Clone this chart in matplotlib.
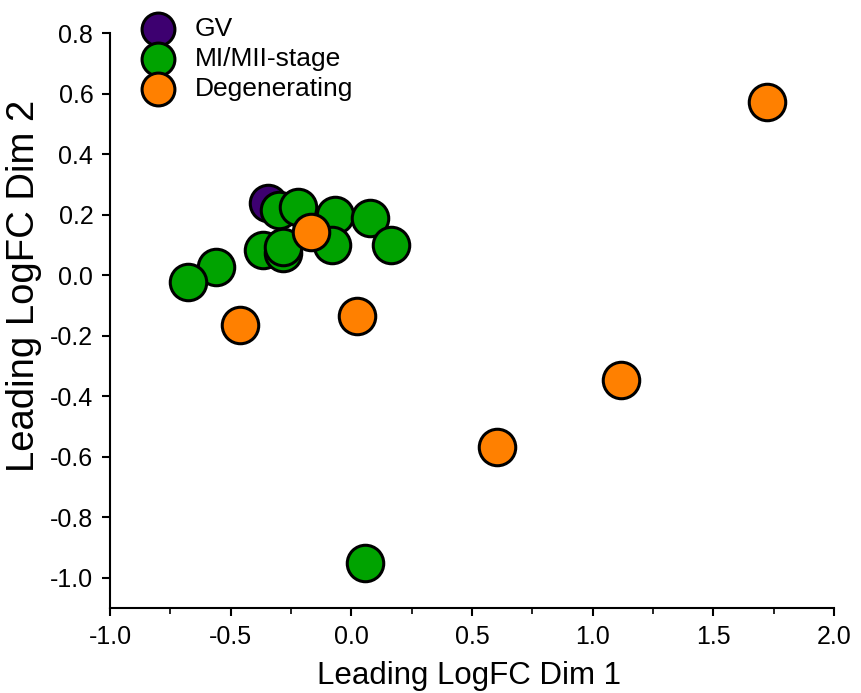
import matplotlib.pyplot as plt
from matplotlib.ticker import MultipleLocator

plt.rcParams['font.family'] = ['Liberation Sans', 'DejaVu Sans']

gv_x = [-0.345]
gv_y = [0.238]

mi_x = [-0.30, -0.22, -0.068, 0.077, 0.165, -0.08, -0.366, -0.283, -0.283, -0.561, -0.677, 0.057]
mi_y = [0.215, 0.225, 0.198, 0.19, 0.099, 0.099, 0.083, 0.073, 0.092, 0.026, -0.023, -0.95]

deg_x = [-0.167, -0.461, 0.024, 1.118, 0.604, 1.723]
deg_y = [0.142, -0.165, -0.135, -0.347, -0.568, 0.574]

fig = plt.figure(figsize=(8.61, 6.93), dpi=100)
ax = fig.add_axes([0.1278, 0.1227, 0.8408, 0.8293])

size = 690
lw = 2.2
ax.scatter(gv_x, gv_y, s=size, c='#3d0070', edgecolors='black', linewidths=lw, label='GV', clip_on=False, zorder=3)
ax.scatter(mi_x, mi_y, s=size, c='#00a300', edgecolors='black', linewidths=lw, label='MI/MII-stage', clip_on=False, zorder=3)
ax.scatter(deg_x, deg_y, s=size, c='#ff8000', edgecolors='black', linewidths=lw, label='Degenerating', clip_on=False, zorder=3)

ax.set_xlim(-1.0, 2.0)
ax.set_ylim(-1.1, 0.8)
ax.set_xticks([-1.0, -0.5, 0.0, 0.5, 1.0, 1.5, 2.0])
ax.set_yticks([-1.0, -0.8, -0.6, -0.4, -0.2, 0.0, 0.2, 0.4, 0.6, 0.8])
ax.xaxis.set_minor_locator(MultipleLocator(0.25))
ax.set_xticklabels(['-1.0', '-0.5', '0.0', '0.5', '1.0', '1.5', '2.0'])
ax.set_yticklabels(['-1.0', '-0.8', '-0.6', '-0.4', '-0.2', '0.0', '0.2', '0.4', '0.6', '0.8'])
ax.spines['top'].set_visible(False)
ax.spines['right'].set_visible(False)
for s in ['left', 'bottom']:
    ax.spines[s].set_linewidth(1.5)
ax.tick_params(axis='both', which='major', direction='out', length=6, width=1.5, labelsize=18, pad=6)
ax.tick_params(axis='x', which='minor', direction='out', length=4.5, width=1.2)

ax.set_xlabel('Leading LogFC Dim 1', fontsize=22.5)
ax.set_ylabel('Leading LogFC Dim 2', fontsize=27.5)
ax.xaxis.set_label_coords(0.496, -0.092)
ax.yaxis.set_label_coords(-0.094, 0.56)

fig.legend(loc='upper left', bbox_to_anchor=(0.1527, 0.976), frameon=False, fontsize=19,
           labelspacing=0.23, handlelength=2.0, handletextpad=0.4, borderpad=0, borderaxespad=0,
           markerscale=0.9)

fig.savefig('out.png', dpi=100)
